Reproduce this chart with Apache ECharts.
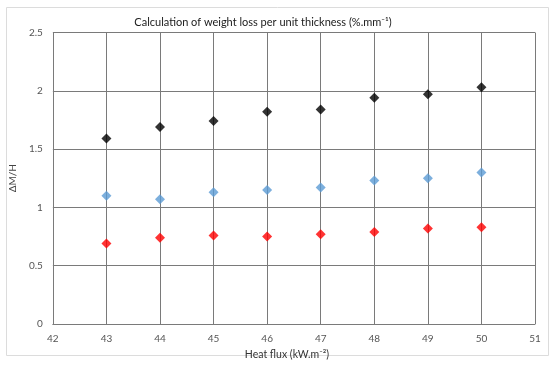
<!DOCTYPE html>
<html>
<head>
<meta charset="utf-8">
<script src="https://cdn.jsdelivr.net/npm/echarts@6/dist/echarts.min.js"></script>
<style>html,body{margin:0;padding:0;background:#fff}#c{width:550px;height:365px}</style>
</head>
<body>
<div id="c"></div>
<script>
const heatFlux = [43, 44, 45, 46, 47, 48, 49, 50];
const seriesBlack = [1.59, 1.69, 1.74, 1.82, 1.84, 1.94, 1.97, 2.03];
const seriesBlue = [1.10, 1.07, 1.13, 1.15, 1.17, 1.23, 1.25, 1.30];
const seriesRed = [0.69, 0.74, 0.76, 0.75, 0.77, 0.79, 0.82, 0.83];
const titleText = 'Calculation of weight loss per unit thickness (%.mm\u207B\u00B9)';
const xName = 'Heat flux (kW.m\u207B\u00B2)';
const yName = '\u0394M/H';

const pair = arr => heatFlux.map((x, i) => [x, arr[i]]);
const font = 'Lato, "Open Sans", sans-serif';
const gridColor = '#7a7a7a';

const chart = echarts.init(document.getElementById('c'), null, {renderer: 'canvas'});
chart.setOption({
  animation: false,
  backgroundColor: '#fff',
  graphic: [{
    type: 'rect', left: 4, top: 5, silent: true,
    shape: {x: 0, y: 0, width: 542, height: 348},
    style: {fill: 'none', stroke: '#dcdcdc', lineWidth: 1}
  }],
  title: {
    text: titleText, left: 258, top: 12, textAlign: 'center',
    textStyle: {fontFamily: font, fontSize: 11, fontWeight: 'normal', color: '#1a1a1a'}
  },
  grid: {left: 41, right: 15, top: 32.5, bottom: 41, containLabel: false},
  xAxis: {
    type: 'value', min: 42, max: 51, interval: 1,
    name: xName, nameLocation: 'middle', nameGap: 23,
    nameTextStyle: {fontFamily: font, fontSize: 10.5, color: '#333', padding: [0, 14, 0, 0]},
    axisLine: {show: true, lineStyle: {color: gridColor, width: 1}},
    axisTick: {show: false},
    axisLabel: {fontFamily: font, fontSize: 10, color: '#555', margin: 10},
    splitLine: {show: true, lineStyle: {color: gridColor, width: 1}}
  },
  yAxis: {
    type: 'value', min: 0, max: 2.5, interval: 0.5,
    name: yName, nameLocation: 'middle', nameGap: 24, nameRotate: 90,
    nameTextStyle: {fontFamily: font, fontSize: 10, color: '#444'},
    axisLine: {show: true, lineStyle: {color: gridColor, width: 1}},
    axisTick: {show: false},
    axisLabel: {fontFamily: font, fontSize: 10, color: '#555', margin: 10},
    splitLine: {show: true, lineStyle: {color: gridColor, width: 1}}
  },
  series: [
    {type: 'scatter', data: pair(seriesBlack), symbol: 'diamond', symbolSize: 10, itemStyle: {color: '#000'}},
    {type: 'scatter', data: pair(seriesBlue), symbol: 'diamond', symbolSize: 10, itemStyle: {color: '#5B9BD5'}},
    {type: 'scatter', data: pair(seriesRed), symbol: 'diamond', symbolSize: 10, itemStyle: {color: '#FF0000'}}
  ]
});
</script>
</body>
</html>
